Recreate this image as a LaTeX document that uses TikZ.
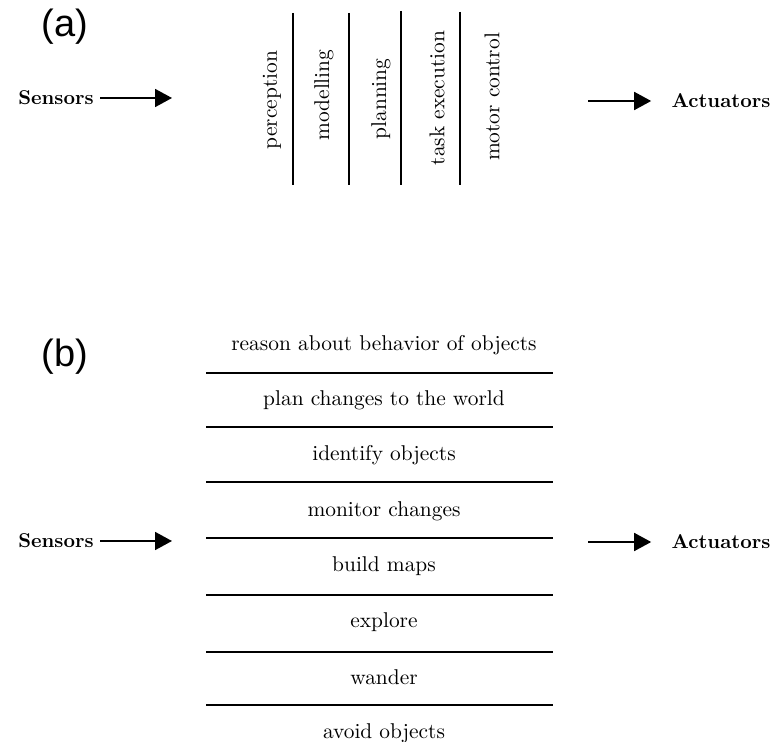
\documentclass[tikz,border=0pt]{standalone}
\usepackage{fontspec}
\usepackage{tikz}
\usetikzlibrary{positioning, arrows.meta}
\newfontfamily\panelfont{Liberation Sans}

\begin{document}
\begin{tikzpicture}[x=0.5pt, y=-0.5pt, io/.style={font=\bfseries, inner sep=3pt}, layer/.style={font=\fontsize{10.7}{13}\selectfont, inner sep=1pt}, vlayer/.style={layer, rotate=90}, panel/.style={font=\panelfont\fontsize{19}{22}\selectfont}, flow/.style={line width=0.9pt, -{Triangle[length=8.5pt, width=9pt]}}, sep/.style={line width=0.9pt}]

    \useasboundingbox (0,0) rectangle (771,742);

    % Panel (a)
    \node[panel] (laba) at (65,27) {(a)};
    \node[io] (sensa) at (56,98) {Sensors};
    \node[io] (acta) at (721,101) {Actuators};
    \coordinate (ina) at (172,98);
    \coordinate (outa) at (588,101);

    \node[vlayer] (percep) at (272,100) {perception};
    \node[vlayer] (model)  at (324,95)  {modelling};
    \node[vlayer] (plan)   at (381,99)  {planning};
    \node[vlayer] (task)   at (437,98)  {task execution};
    \node[vlayer] (motor)  at (492,97)  {motor control};

    \draw[sep] (293,13) -- (293,185);
    \draw[sep] (349,13) -- (349,185);
    \draw[sep] (401,11) -- (401,185);
    \draw[sep] (460,12) -- (460,185);

    \draw[flow] (sensa) -- (ina);
    \draw[flow, shorten >=7pt] (outa) -- (acta.west);

    % Panel (b)
    \node[panel] (labb) at (65,357) {(b)};
    \node[io] (sensb) at (56,541) {Sensors};
    \node[io] (actb) at (721,542) {Actuators};
    \coordinate (inb) at (172,541);
    \coordinate (outb) at (588,542);

    \node[layer] (reason)   at (384,345) {reason about behavior of objects};
    \node[layer] (planw)    at (384,400) {plan changes to the world};
    \node[layer] (ident)    at (384,455) {identify objects};
    \node[layer] (monitor)  at (384,511) {monitor changes};
    \node[layer] (maps)     at (384,566) {build maps};
    \node[layer] (explore)  at (384,622) {explore};
    \node[layer] (wander)   at (384,677) {wander};
    \node[layer] (avoid)    at (384,733) {avoid objects};

    \foreach \y in {373,427,482,538,595,652,705}
        \draw[sep] (206,\y) -- (553,\y);

    \draw[flow] (sensb) -- (inb);
    \draw[flow, shorten >=7pt] (outb) -- (actb.west);

\end{tikzpicture}
\end{document}
